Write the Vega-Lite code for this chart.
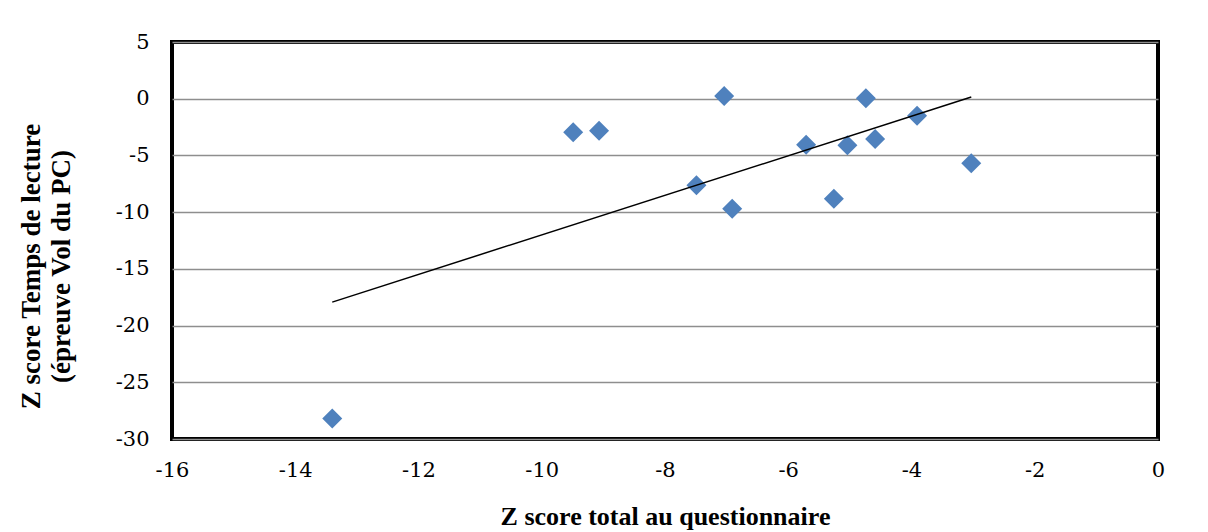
{
  "$schema": "https://vega.github.io/schema/vega-lite/v6.json",
  "autosize": {"type": "none"},
  "padding": {"left": 172, "top": 42, "right": 50, "bottom": 93},
  "width": 986,
  "height": 397,
  "background": "white",
  "config": {
    "font": "Liberation Serif",
    "view": {"stroke": "black", "strokeWidth": 4}
  },
  "data": {
    "values": [
      {"x": -13.40, "y": -28.2},
      {"x": -9.49, "y": -2.95},
      {"x": -9.07, "y": -2.82},
      {"x": -7.04, "y": 0.24},
      {"x": -7.49, "y": -7.64},
      {"x": -6.91, "y": -9.7},
      {"x": -5.71, "y": -4.06},
      {"x": -5.26, "y": -8.82},
      {"x": -5.04, "y": -4.11},
      {"x": -4.74, "y": 0.03},
      {"x": -4.59, "y": -3.55},
      {"x": -3.91, "y": -1.5},
      {"x": -3.03, "y": -5.7}
    ]
  },
  "encoding": {
    "x": {
      "field": "x", "type": "quantitative",
      "scale": {"domain": [-16, 0], "nice": false, "zero": false},
      "axis": {
        "values": [-16, -14, -12, -10, -8, -6, -4, -2, 0],
        "labelExpr": "toString(datum.value)",
        "labelFlush": false, "labelOverlap": false,
        "grid": false, "domain": false, "ticks": false,
        "labelFont": "DejaVu Serif", "labelFontSize": 21, "labelColor": "black",
        "labelPadding": 20,
        "title": "Z score total au questionnaire",
        "titleFont": "Liberation Serif", "titleFontSize": 26, "titleFontWeight": "bold",
        "titleColor": "black", "titlePadding": 23
      }
    },
    "y": {
      "field": "y", "type": "quantitative",
      "scale": {"domain": [-30, 5], "nice": false, "zero": false},
      "axis": {
        "values": [-30, -25, -20, -15, -10, -5, 0, 5],
        "labelExpr": "toString(datum.value)",
        "labelFlush": false, "labelOverlap": false,
        "grid": true, "gridColor": "#8e8e8e", "gridWidth": 1.5,
        "domain": false, "ticks": false,
        "labelFont": "DejaVu Serif", "labelFontSize": 21, "labelColor": "black",
        "labelPadding": 23,
        "title": ["Z score Temps de lecture", "(épreuve Vol du PC)"],
        "titleFont": "Liberation Serif", "titleFontSize": 27, "titleFontWeight": "bold",
        "titleColor": "black", "titleLineHeight": 30,
        "titleY": 224, "titlePadding": 40
      }
    }
  },
  "layer": [
    {
      "mark": {"type": "point", "shape": "diamond", "filled": true, "size": 400, "color": "#4F81BD", "opacity": 1}
    },
    {
      "transform": [{"regression": "y", "on": "x"}],
      "mark": {"type": "line", "color": "black", "strokeWidth": 1.5}
    }
  ]
}
